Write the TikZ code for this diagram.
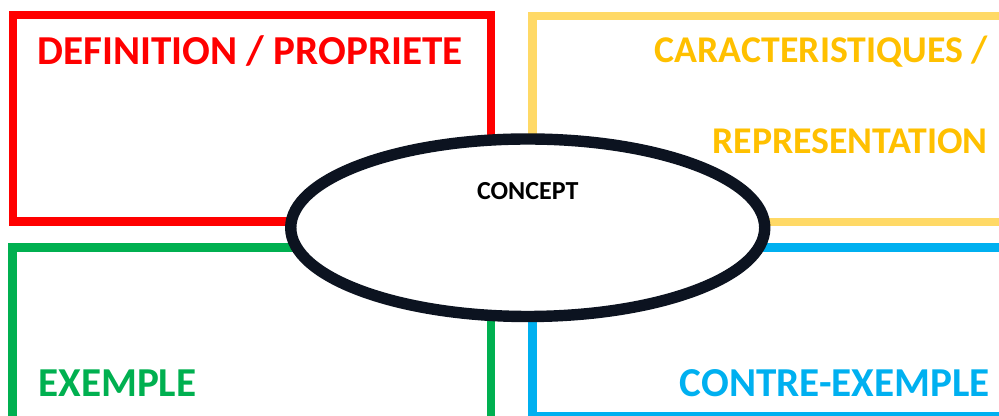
\documentclass[tikz,border=0pt]{standalone}
\usepackage{fontspec}
\setmainfont{Carlito}
\usepackage{tikz}
\usetikzlibrary{shapes.geometric,positioning}
\usepackage{xcolor}
\definecolor{defred}    {RGB}{255,   0,   0}
\definecolor{carborder} {RGB}{255, 217, 102}
\definecolor{cartext}   {RGB}{255, 192,   0}
\definecolor{exgreen}   {RGB}{  0, 176,  80}
\definecolor{contreblue}{RGB}{  0, 176, 240}
\definecolor{conceptink}{RGB}{ 12,  19,  32}

\begin{document}
\begin{tikzpicture}[
  box/.style={draw,line width=4.8pt,inner sep=0pt,outer sep=0pt},
  heading/.style={inner sep=0pt,font=\fontsize{23.4}{27}\selectfont\bfseries},
  smallheading/.style={heading,font=\fontsize{21.5}{25}\selectfont\bfseries},
  conceptshape/.style={ellipse,draw=conceptink,line width=6.5pt,fill=white,
                       minimum width=9.48cm,minimum height=3.55cm,inner sep=0pt},
  conceptlbl/.style={inner sep=0pt,font=\fontsize{14.8}{17}\selectfont\bfseries},
]

%% Frame of the page
\clip (0,0) rectangle (19.98,8.32);

%% Four boxes
\node[box,draw=defred,minimum width=9.56cm,minimum height=4.13cm]
  (defbox) at (5.04,5.955) {};
\node[box,draw=carborder,minimum width=10.35cm,minimum height=4.12cm]
  (carbox) at (15.825,5.94) {};
\node[box,draw=exgreen,minimum width=9.57cm,minimum height=3.57cm]
  (exbox) at (5.035,1.585) {};
\node[box,draw=contreblue,minimum width=10.35cm,minimum height=3.37cm]
  (contrebox) at (15.825,1.685) {};

%% Box titles
\node[heading,text=defred,anchor=base] (deftitle) at (5.0,7.02)
  {DEFINITION / PROPRIETE};
\node[smallheading,text=cartext,anchor=base east] (cartitle) at (19.76,7.06)
  {CARACTERISTIQUES /};
\node[smallheading,text=cartext,anchor=base east] (reptitle) at (19.76,5.24)
  {REPRESENTATION};
\node[heading,text=exgreen,anchor=base west] (extitle) at (0.76,0.38)
  {EXEMPLE};
\node[heading,text=contreblue,anchor=base east] (contretitle) at (19.8,0.38)
  {CONTRE-EXEMPLE};

%% Central concept
\node[conceptshape] (concept) at (10.555,3.765) {};
\node[conceptlbl] (concepttxt) at ([yshift=0.74cm]concept.center) {CONCEPT};

\end{tikzpicture}
\end{document}
